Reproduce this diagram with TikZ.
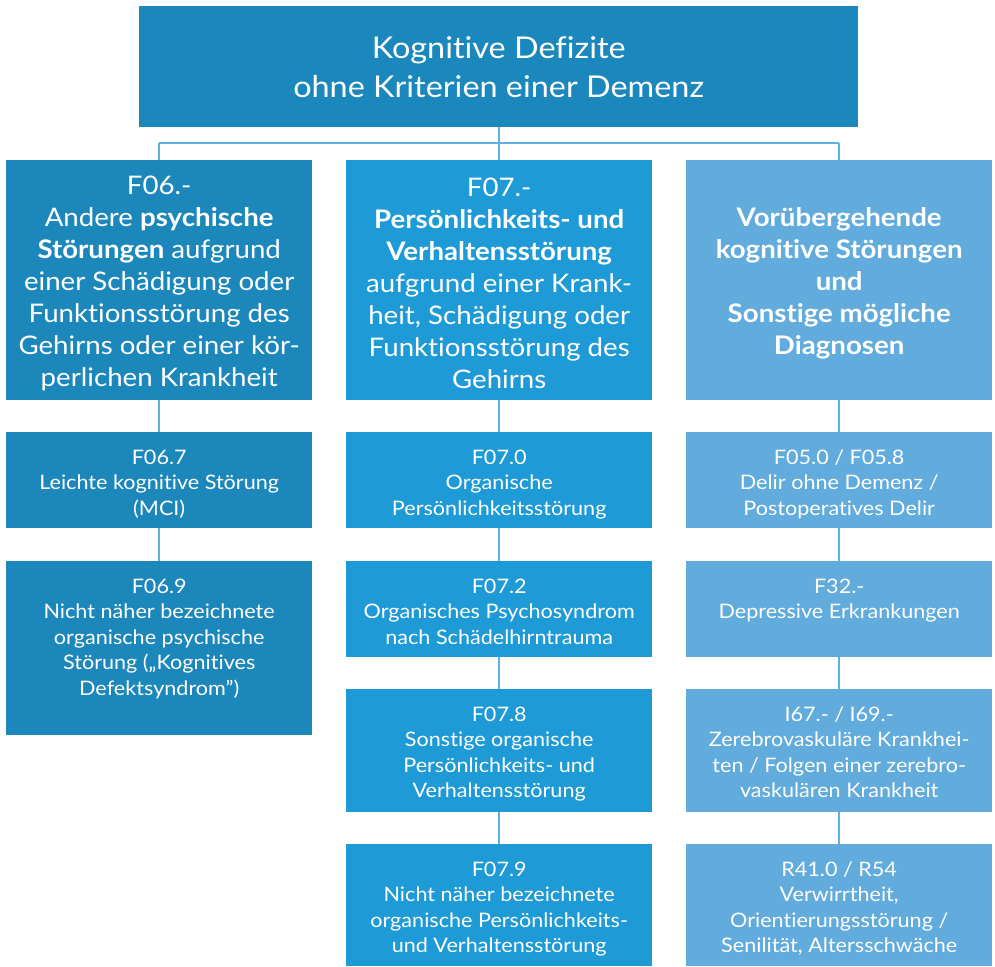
\documentclass[tikz,border=0pt]{standalone}
\usepackage{fontspec}
\setmainfont{Lato}[Ligatures=NoCommon, FakeStretch=1.08]
\definecolor{ctop}{HTML}{1B88BD}
\definecolor{cone}{HTML}{1C87BB}
\definecolor{ctwo}{HTML}{1E9AD6}
\definecolor{cthree}{HTML}{61ABDD}
\definecolor{lineblue}{HTML}{5DB0E4}
\begin{document}
\begin{tikzpicture}[x=1pt,y=-1pt,
  boxst/.style={rectangle, inner sep=0pt, anchor=north west, draw=none, text=white, align=center},
  topfont/.style={font=\fontsize{30}{39}\selectfont},
  headfont/.style={font=\fontsize{25.6}{32}\selectfont},
  subfont/.style={font=\fontsize{20}{25.5}\selectfont},
  headtext/.style={anchor=center, inner sep=0pt, text=white, align=center, headfont, yshift=-3pt},
  subtext/.style={anchor=north, inner sep=0pt, text=white, align=center, subfont, yshift=-17.5pt},
  conn/.style={draw=lineblue, line width=2pt}]
\useasboundingbox (0,0) rectangle (995,966);
\coordinate (bus) at (0,143);
% top
\node[boxst, fill=ctop, minimum width=719pt, minimum height=121pt, topfont] (top) at (139,6) {Kognitive Defizite\\ohne Kriterien einer Demenz};
% headers
\node[boxst, fill=cone, minimum width=306pt, minimum height=240pt] (h1) at (6,160) {};
\node[boxst, fill=ctwo, minimum width=306pt, minimum height=240pt] (h2) at (346,160) {};
\node[boxst, fill=cthree, minimum width=306pt, minimum height=240pt] (h3) at (686,160) {};
\node[headtext] (th1) at (h1.center) {F06.-\\Andere \textbf{psychische}\\\textbf{Störungen} aufgrund\\einer Schädigung oder\\Funktionsstörung des\\Gehirns oder einer kör-\\perlichen Krankheit};
\node[headtext] (th2) at (h2.center) {F07.-\\\textbf{Persönlichkeits- und}\\\textbf{Verhaltensstörung}\\aufgrund einer Krank-\\heit, Schädigung oder\\Funktionsstörung des\\Gehirns};
\node[headtext] (th3) at (h3.center) {\textbf{Vorübergehende}\\\textbf{kognitive Störungen}\\\textbf{und}\\\textbf{Sonstige mögliche}\\\textbf{Diagnosen}};
% column 1 boxes
\node[boxst, fill=cone, minimum width=306pt, minimum height=96pt] (a1) at (6,432) {};
\node[boxst, fill=cone, minimum width=306pt, minimum height=174pt] (a2) at (6,561) {};
% column 2 boxes
\node[boxst, fill=ctwo, minimum width=306pt, minimum height=96pt] (b1) at (346,432) {};
\node[boxst, fill=ctwo, minimum width=306pt, minimum height=96pt] (b2) at (346,561) {};
\node[boxst, fill=ctwo, minimum width=306pt, minimum height=123pt] (b3) at (346,689) {};
\node[boxst, fill=ctwo, minimum width=306pt, minimum height=122pt] (b4) at (346,844) {};
% column 3 boxes
\node[boxst, fill=cthree, minimum width=306pt, minimum height=96pt] (c1) at (686,432) {};
\node[boxst, fill=cthree, minimum width=306pt, minimum height=96pt] (c2) at (686,561) {};
\node[boxst, fill=cthree, minimum width=306pt, minimum height=123pt] (c3) at (686,689) {};
\node[boxst, fill=cthree, minimum width=306pt, minimum height=122pt] (c4) at (686,844) {};
% texts
\node[subtext] (ta1) at (a1.north) {F06.7\\Leichte kognitive Störung\\(MCI)};
\node[subtext] (ta2) at (a2.north) {F06.9\\Nicht näher bezeichnete\\organische psychische\\Störung („Kognitives\\Defektsyndrom”)};
\node[subtext] (tb1) at (b1.north) {F07.0\\Organische\\Persönlichkeitsstörung};
\node[subtext] (tb2) at (b2.north) {F07.2\\Organisches Psychosyndrom\\nach Schädelhirntrauma};
\node[subtext] (tb3) at (b3.north) {F07.8\\Sonstige organische\\Persönlichkeits- und\\Verhaltensstörung};
\node[subtext] (tb4) at (b4.north) {F07.9\\Nicht näher bezeichnete\\organische Persönlichkeits-\\und Verhaltensstörung};
\node[subtext] (tc1) at (c1.north) {F05.0 / F05.8\\Delir ohne Demenz /\\Postoperatives Delir};
\node[subtext] (tc2) at (c2.north) {F32.-\\Depressive Erkrankungen};
\node[subtext] (tc3) at (c3.north) {I67.- / I69.-\\Zerebrovaskuläre Krankhei-\\ten / Folgen einer zerebro-\\vaskulären Krankheit};
\node[subtext] (tc4) at (c4.north) {R41.0 / R54\\Verwirrtheit,\\Orientierungsstörung /\\Senilität, Altersschwäche};
% connectors
\draw[conn] (top.south) -- (top.south |- bus);
\draw[conn] (h1.north |- bus) -- (h3.north |- bus);
\draw[conn] (h1.north |- bus) -- (h1.north);
\draw[conn] (h2.north |- bus) -- (h2.north);
\draw[conn] (h3.north |- bus) -- (h3.north);
\draw[conn] (h1.south) -- (a1.north);
\draw[conn] (a1.south) -- (a2.north);
\draw[conn] (h2.south) -- (b1.north);
\draw[conn] (b1.south) -- (b2.north);
\draw[conn] (b2.south) -- (b3.north);
\draw[conn] (b3.south) -- (b4.north);
\draw[conn] (h3.south) -- (c1.north);
\draw[conn] (c1.south) -- (c2.north);
\draw[conn] (c2.south) -- (c3.north);
\draw[conn] (c3.south) -- (c4.north);
\end{tikzpicture}
\end{document}
